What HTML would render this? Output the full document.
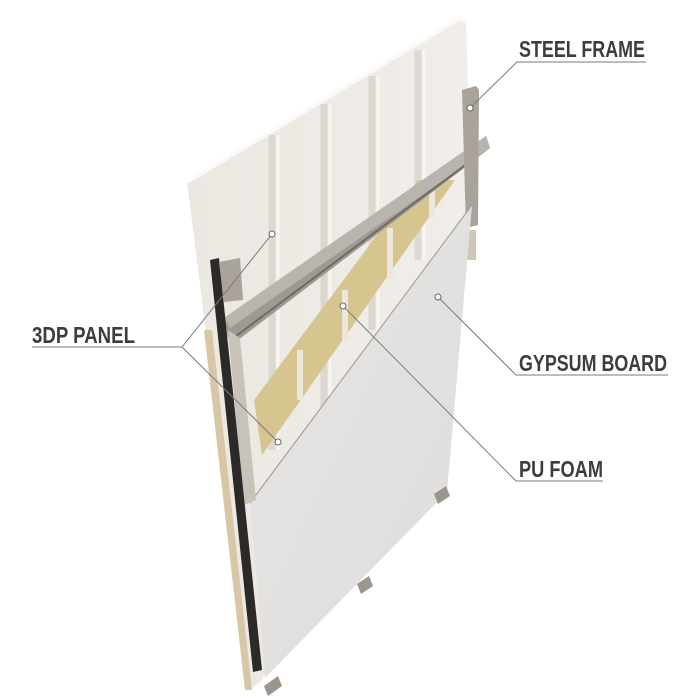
<!DOCTYPE html>
<html><head><meta charset="utf-8"><style>
html,body{margin:0;padding:0;background:#fff;}
svg{display:block;}
text{font-family:"Liberation Sans Narrow","Liberation Sans",sans-serif;font-size:23px;font-weight:bold;fill:#3d3d3d;}
</style></head><body>
<svg width="700" height="700" viewBox="0 0 700 700" xmlns="http://www.w3.org/2000/svg">
<defs>
<linearGradient id="gy" x1="0" y1="0" x2="1" y2="1">
<stop offset="0" stop-color="#e8e6e5"/><stop offset="1" stop-color="#dedcda"/>
</linearGradient>
<linearGradient id="pn" x1="0" y1="0" x2="1" y2="0">
<stop offset="0" stop-color="#ebe7e1"/><stop offset="1" stop-color="#f1eeea"/>
</linearGradient>
</defs>
<polygon points="187,182 460,18 466,22 472,205 262,680 250,690 240,600" fill="url(#pn)"/>
<polyline points="187,182 460,18 466,22" fill="none" stroke="#fbfaf8" stroke-width="4"/>
<g stroke="#d9d3cb" stroke-width="7" opacity="0.8">
<line x1="272" y1="135" x2="272" y2="450"/>
<line x1="324" y1="104" x2="324" y2="420"/>
<line x1="372" y1="76" x2="372" y2="330"/>
<line x1="418" y1="50" x2="418" y2="260"/>
</g>
<g stroke="#f8f6f3" stroke-width="3">
<line x1="278" y1="135" x2="278" y2="450"/>
<line x1="330" y1="104" x2="330" y2="420"/>
<line x1="378" y1="76" x2="378" y2="330"/>
<line x1="424" y1="50" x2="424" y2="260"/>
</g>
<polygon points="254,400 418,180 455,180 262,455" fill="#d7c58f"/>
<g stroke="#ebe6de" stroke-width="6">
<line x1="300" y1="350" x2="300" y2="400"/>
<line x1="345" y1="290" x2="345" y2="340"/>
<line x1="390" y1="228" x2="390" y2="278"/>
<line x1="432" y1="180" x2="432" y2="218"/>
</g>
<polygon points="224,318 486,136 490,148 472,162 238,340 228,337" fill="#9e9993"/>
<polygon points="224,318 486,136 490,148 230,328" fill="#b9b4ae"/>
<line x1="236" y1="336" x2="472" y2="160" stroke="#6f6a65" stroke-width="2"/>
<polygon points="462,90 476,86 479,90 478,225 466,228" fill="#a9a39c"/>
<rect x="466" y="230" width="10" height="30" fill="#cfc7ba"/>
<polygon points="472,205 447,492 265,678 250,503" fill="url(#gy)"/>
<line x1="250" y1="503" x2="472" y2="205" stroke="#9a9793" stroke-width="1"/>
<polygon points="228,330 240,338 256,500 244,505" fill="#c9c2b8"/>
<polygon points="204,330 212,330 252,690 245,690" fill="#d8c7a6"/>
<polygon points="210,260 219,258 262,670 253,672" fill="#2b2a29"/>
<polygon points="219,262 240,258 243,300 224,302" fill="#aaa39b"/>
<polygon points="434,494 446,486 450,496 438,504" fill="#9b958e"/>
<polygon points="357,584 369,576 373,586 361,594" fill="#9b958e"/>
<polygon points="264,686 278,676 282,686 268,696" fill="#9b958e"/>
<g stroke="#7a7a7a" stroke-width="1" fill="none">
<polyline points="646,62 517,62 470,108"/>
<polyline points="32,347 182,347 272,234"/>
<line x1="182" y1="347" x2="278" y2="442"/>
<polyline points="668,375 516,375 438,297"/>
<polyline points="603,481 516,481 343,306"/>
</g>
<g fill="#fff" stroke="#666" stroke-width="1">
<circle cx="470" cy="108" r="3"/><circle cx="272" cy="234" r="3"/><circle cx="278" cy="442" r="3"/>
<circle cx="438" cy="297" r="3"/><circle cx="343" cy="306" r="3"/>
</g>
<text x="519" y="57" textLength="126" lengthAdjust="spacingAndGlyphs">STEEL FRAME</text>
<text x="32" y="343" textLength="103" lengthAdjust="spacingAndGlyphs">3DP PANEL</text>
<text x="519" y="371" textLength="148" lengthAdjust="spacingAndGlyphs">GYPSUM BOARD</text>
<text x="519" y="477" textLength="84" lengthAdjust="spacingAndGlyphs">PU FOAM</text>
</svg>
</body></html>
